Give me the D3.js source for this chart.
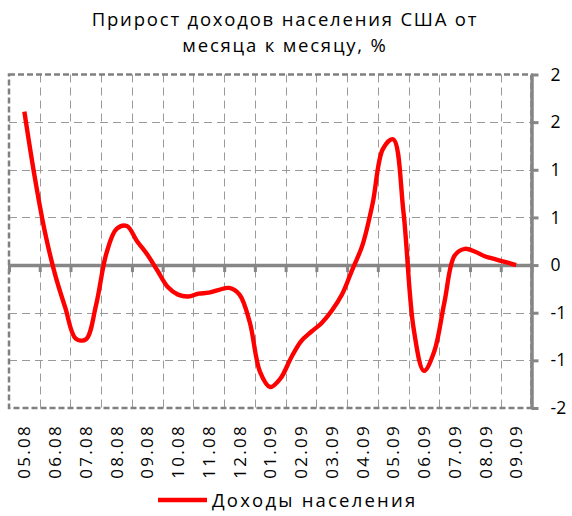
<!DOCTYPE html>
<html lang="ru">
<head>
<meta charset="UTF-8">
<title>Прирост доходов населения США</title>
<style>
  body { margin: 0; background: #fff; }
  svg { display: block; }
  text { font-family: "Open Sans", "Noto Sans", sans-serif; fill: #000; }
</style>
</head>
<body>
<svg width="572" height="516"></svg>
<script src="https://d3js.org/d3.v7.min.js"></script>
<script>
  // подписи оси X (месяцы)
  const months = ["05.08", "06.08", "07.08", "08.08", "09.08", "10.08", "11.08", "12.08",
                  "01.09", "02.09", "03.09", "04.09", "05.09", "06.09", "07.09", "08.09", "09.09"];
  // прирост доходов, % : три отсчёта на месяц, последний отсчёт — 09.09
  const perMonth = 3;
  const income = [
     1.61,  0.93,  0.35,   // 05.08
    -0.10, -0.45, -0.77,   // 06.08
    -0.78, -0.42,  0.12,   // 07.08
     0.38,  0.41,  0.25,   // 08.08
     0.11, -0.06, -0.23,   // 09.08
    -0.31, -0.33, -0.30,   // 10.08
    -0.29, -0.26, -0.24,   // 11.08
    -0.31, -0.60, -1.12,   // 12.08
    -1.28, -1.19, -0.98,   // 01.09
    -0.80, -0.70, -0.61,   // 02.09
    -0.48, -0.31, -0.05,   // 03.09
     0.21,  0.65,  1.22,   // 04.09
     1.32,  0.56, -0.67,   // 05.09
    -1.11, -0.91, -0.39,   // 06.09
     0.10,  0.17,  0.14,   // 07.09
     0.09,  0.06,  0.03,   // 08.09
     0.00                  // 09.09
  ];
  const yTicks = [-1.5, -1, -0.5, 0, 0.5, 1, 1.5, 2];
  const title = ["Прирост доходов населения США от", "месяца к месяцу, %"];
  const seriesName = "Доходы населения";

  const svg = d3.select("svg");
  const pL = 9, pR = 531.5, pT = 74.5, pB = 408;

  const x = d3.scaleLinear().domain([-0.5, months.length - 0.5]).range([pL, pR]);
  const y = d3.scaleLinear().domain([-1.5, 2]).range([pB, pT]);

  // Excel-подобное округление (от нуля)
  const fmt = v => String(Math.sign(v) * Math.round(Math.abs(v)));

  const bounds = d3.range(months.length + 1).map(i => i - 0.5);

  // сетка
  const grid = svg.append("g").attr("stroke", "#9a9a9a").attr("stroke-width", 1)
    .attr("stroke-dasharray", "8,5").attr("fill", "none");
  grid.selectAll(".v").data(bounds.slice(1, -1)).enter().append("line")
    .attr("x1", d => Math.round(x(d)) + 0.5).attr("x2", d => Math.round(x(d)) + 0.5)
    .attr("y1", pT).attr("y2", pB);
  grid.selectAll(".h").data(yTicks.filter(v => v !== 0 && v !== 2 && v !== -1.5)).enter().append("line")
    .attr("x1", pL).attr("x2", pR)
    .attr("y1", d => Math.round(y(d)) + 0.5).attr("y2", d => Math.round(y(d)) + 0.5);

  // рамка области построения (пунктир)
  svg.append("rect")
    .attr("x", pL).attr("y", pT).attr("width", pR - pL).attr("height", pB - pT)
    .attr("fill", "none").attr("stroke", "#808080").attr("stroke-width", 2.5)
    .attr("stroke-dasharray", "6,3");

  // ось X по нулю
  const xAxis = svg.append("g")
    .attr("transform", `translate(0,${y(0)})`)
    .call(d3.axisBottom(x).tickValues(bounds).tickSize(7).tickSizeOuter(0).tickFormat(""));
  xAxis.select(".domain").attr("stroke", "#868686").attr("stroke-width", 3.5);
  xAxis.selectAll(".tick line").attr("stroke", "#868686").attr("stroke-width", 3);

  // правая ось Y
  const yAxis = svg.append("g")
    .attr("transform", `translate(${pR},0)`)
    .call(d3.axisRight(y).tickValues(yTicks).tickSize(7).tickSizeOuter(0).tickPadding(12).tickFormat(fmt));
  yAxis.select(".domain").attr("stroke", "#868686").attr("stroke-width", 3.5);
  yAxis.selectAll(".tick line").attr("stroke", "#868686").attr("stroke-width", 3);
  yAxis.selectAll(".tick text").style("font-size", "17.5px").attr("fill", "#000");

  // подписи месяцев (повёрнуты)
  svg.append("g").selectAll("text").data(months).enter().append("text")
    .attr("transform", (d, i) => `translate(${x(i)},424) rotate(-90)`)
    .attr("dy", "0.36em")
    .attr("text-anchor", "end")
    .style("font-size", "17px")
    .style("letter-spacing", "2.3px")
    .text(d => d);

  // линия
  const line = d3.line()
    .x((d, i) => x(i / perMonth))
    .y(d => y(d))
    .curve(d3.curveCatmullRom.alpha(0.5));
  svg.append("path").datum(income)
    .attr("d", line)
    .attr("fill", "none").attr("stroke", "#ff0000").attr("stroke-width", 4.4)
    .attr("stroke-linejoin", "round");

  // заголовок
  svg.append("g").selectAll("text").data(title).enter().append("text")
    .attr("x", 285).attr("y", (d, i) => 26 + i * 26)
    .attr("text-anchor", "middle")
    .style("font-size", "18.5px")
    .style("letter-spacing", "1.8px")
    .text(d => d);

  // легенда
  svg.append("line").attr("x1", 158).attr("x2", 207).attr("y1", 500).attr("y2", 500)
    .attr("stroke", "#ff0000").attr("stroke-width", 4.4);
  svg.append("text").attr("x", 212).attr("y", 507)
    .style("font-size", "18.5px").style("letter-spacing", "2.2px")
    .text(seriesName);
</script>
</body>
</html>
